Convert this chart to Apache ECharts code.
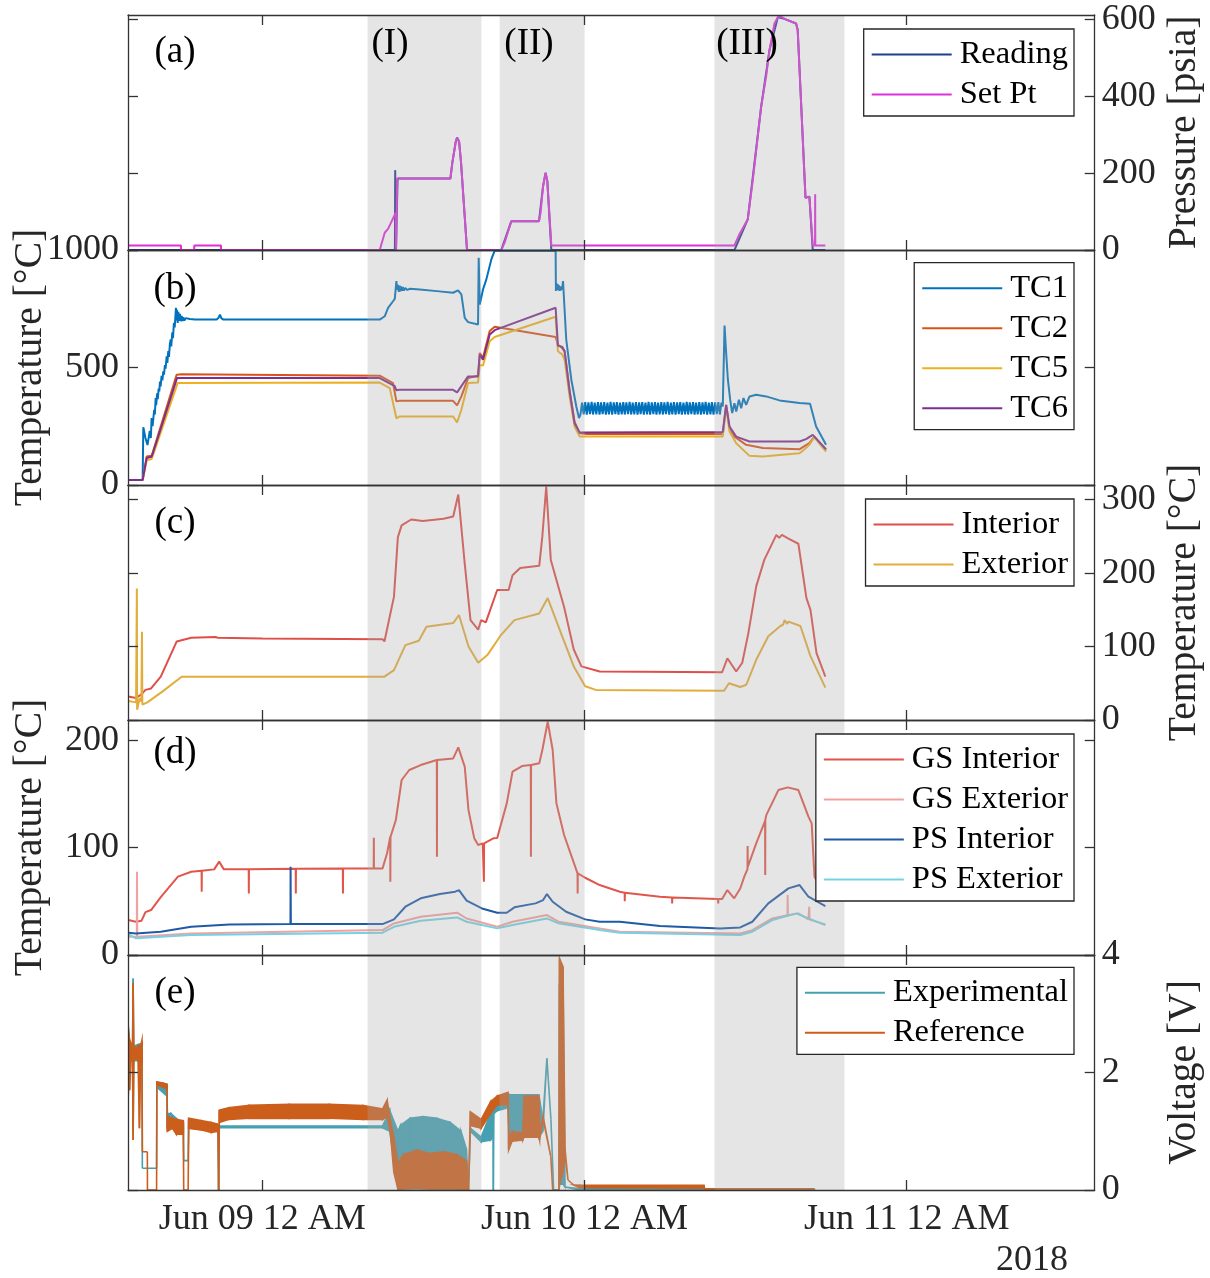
<!DOCTYPE html>
<html><head><meta charset="utf-8">
<script src="https://cdn.jsdelivr.net/npm/echarts@6/dist/echarts.min.js"></script>
<style>html,body{margin:0;padding:0;background:#fff}#c{width:1210px;height:1278px}</style>
</head><body><div id="c"></div>
<script>
// ---------- DATA (x = hours since Jun 08 2018 00:00) ----------
const xTickValues = [24, 48, 72];
const xTickLabels = ['Jun 09 12 AM', 'Jun 10 12 AM', 'Jun 11 12 AM'];
const phaseSpans = [[31.84, 40.32], [41.68, 48.01], [57.68, 67.36]];
const phaseLabels = ['(I)', '(II)', '(III)'];
const panelLetters = ['(a)', '(b)', '(c)', '(d)', '(e)'];
const pressureTicks = [0, 200, 400, 600];
const tempBTicks = [0, 500, 1000];
const tempCTicks = [0, 100, 200, 300];
const tempDTicks = [0, 100, 200];
const voltTicks = [0, 2, 4];

const reading = [[14.0,0],[33.88,0],[33.9,208],[33.96,0],[34.06,0],[34.08,186],[38.01,186],[38.16,228],[38.41,282],[38.51,293],[38.66,282],[38.8,230],[39.25,0],[41.8,0],[42.55,75],[44.61,75],[44.91,165],[45.1,201],[45.23,180],[45.53,0],[59.17,0],[60.16,80],[61.16,374],[61.78,521],[62.4,606],[62.89,602],[63.76,590],[63.88,573],[64.46,136],[64.75,139],[65.0,0],[65.94,0]];
const setPt = [[14.0,12],[17.94,12],[17.95,0],[18.93,0],[18.94,12],[20.92,12],[20.93,0],[32.75,0],[33.12,45],[33.37,55],[33.94,97],[33.97,0],[34.04,0],[34.05,186],[38.01,186],[38.16,228],[38.41,282],[38.51,293],[38.66,282],[38.8,230],[39.25,0],[41.8,0],[42.05,19],[42.55,75],[44.61,75],[44.73,97],[44.91,165],[45.1,201],[45.23,180],[45.53,12],[59.17,12],[59.54,41],[60.16,80],[60.54,183],[61.16,374],[61.53,452],[61.78,521],[62.15,590],[62.4,606],[62.64,608],[62.89,602],[63.3,596],[63.76,590],[63.88,573],[64.46,136],[64.75,139],[65.0,12],[65.17,12],[65.18,145],[65.19,12],[65.94,12]];

const tc1 = [[14.0,21],[15.09,21],[15.14,246],[15.3,200],[15.45,170],[15.56,164],[15.62,230],[15.7,200],[15.76,285],[15.83,250],[15.89,243],[15.95,320],[16.0,300],[16.06,370],[16.1,340],[16.17,390],[16.22,365],[16.28,410],[16.33,398],[16.38,440],[16.43,420],[16.5,465],[16.56,445],[16.63,484],[16.68,470],[16.75,510],[16.8,495],[16.88,548],[16.93,520],[17.0,570],[17.05,545],[17.12,600],[17.18,619],[17.22,590],[17.3,650],[17.35,625],[17.42,690],[17.48,670],[17.57,754],[17.6,700],[17.65,745],[17.7,690],[17.75,737],[17.8,698],[17.87,728],[17.93,697],[18.0,720],[18.06,698],[18.12,714],[18.2,700],[18.3,710],[18.4,702],[18.6,706],[19.0,704],[20.6,704],[20.75,712],[20.85,725],[20.95,710],[21.1,704],[32.75,704],[33.12,718],[33.37,754],[33.74,782],[33.87,792],[33.99,868],[34.05,830],[34.11,852],[34.17,822],[34.23,848],[34.29,824],[34.35,845],[34.41,826],[34.47,842],[34.55,828],[34.65,838],[34.8,830],[35.0,835],[35.73,832],[37.0,825],[38.21,818],[38.58,828],[38.83,811],[39.08,711],[39.33,693],[40.07,683],[40.12,967],[40.2,768],[40.44,832],[40.69,875],[41.06,960],[41.31,997],[45.85,997],[45.87,826],[45.9,860],[45.95,830],[46.0,855],[46.05,828],[46.1,850],[46.15,826],[46.2,845],[46.25,830],[46.35,840],[46.4,868],[46.52,861],[46.64,619],[47.02,448],[47.39,334],[47.59,285],
[47.70,300],[47.82,350],[47.94,301],[48.05,353],[48.17,299],[48.29,352],[48.41,302],[48.53,354],[48.64,300],[48.76,351],[48.88,301],[49.00,353],[49.12,299],[49.23,352],[49.35,302],[49.47,353],[49.59,300],[49.71,351],[49.82,301],[49.94,354],[50.06,300],[50.18,352],[50.30,302],[50.41,353],[50.53,299],[50.65,351],[50.77,301],[50.89,353],[51.00,300],[51.12,352],[51.24,302],[51.36,354],[51.48,300],[51.59,351],[51.71,301],[51.83,353],[51.95,299],[52.07,352],[52.18,302],[52.30,353],[52.42,300],[52.54,351],[52.66,301],[52.77,354],[52.89,300],[53.01,352],[53.13,302],[53.25,353],[53.36,299],[53.48,351],[53.60,301],[53.72,353],[53.84,300],[53.95,352],[54.07,302],[54.19,354],[54.31,300],[54.43,351],[54.54,301],[54.66,353],[54.78,299],[54.90,352],[55.02,302],[55.13,353],[55.25,300],[55.37,351],[55.49,301],[55.61,354],[55.72,300],[55.84,352],[55.96,302],[56.08,353],[56.20,299],[56.31,351],[56.43,301],[56.55,353],[56.67,300],[56.79,352],[56.90,302],[57.02,354],[57.14,300],[57.26,351],[57.38,301],[57.49,353],[57.61,299],[57.73,352],[57.85,302],[57.97,353],[58.08,300],[58.20,351],
[58.3,334],[58.43,679],[58.55,563],[58.68,448],[58.85,363],[59.0,306],[59.17,348],[59.3,313],[59.5,363],[59.67,327],[59.84,370],[60.04,341],[60.29,377],[60.78,384],[61.53,377],[62.52,360],[64.01,349],[64.8,346],[64.88,348],[65.25,249],[65.99,171]];
const tc2 = [[14.0,21],[15.09,21],[15.39,121],[15.75,125],[15.85,140],[17.62,469],[18.0,471],[32.75,465],[33.74,434],[33.99,356],[34.2,358],[38.21,358],[38.51,339],[38.83,377],[39.33,455],[40.07,465],[40.2,562],[40.32,555],[40.44,541],[40.94,655],[41.31,673],[45.85,630],[46.02,597],[46.27,587],[46.52,569],[46.89,405],[47.26,270],[47.64,220],[48.2,217],[58.3,217],[58.55,341],[58.8,242],[59.17,206],[60.04,171],[61.28,157],[64.01,152],[64.26,161],[64.75,178],[65.12,206],[65.99,146]];
const tc5 = [[14.0,21],[15.09,21],[15.4,105],[15.75,110],[15.85,125],[17.7,434],[32.75,436],[33.5,412],[33.99,284],[34.24,292],[38.21,292],[38.51,266],[38.83,320],[39.33,434],[40.07,436],[40.2,512],[40.44,508],[40.94,612],[41.31,630],[45.85,716],[46.02,569],[46.35,555],[46.52,533],[46.89,377],[47.26,249],[47.64,206],[58.3,206],[58.55,334],[58.8,228],[59.3,178],[60.29,124],[61.28,121],[64.01,135],[64.26,146],[64.75,171],[65.12,203],[65.99,142]];
const tc6 = [[14.0,21],[15.09,21],[15.39,115],[15.75,120],[15.85,135],[17.65,455],[32.75,455],[33.87,421],[33.99,403],[34.2,405],[38.21,405],[38.51,394],[38.83,421],[39.33,462],[40.07,462],[40.2,555],[40.44,533],[40.94,640],[41.31,659],[45.85,754],[46.02,593],[46.35,587],[46.52,569],[46.89,398],[47.26,263],[47.64,223],[58.3,226],[58.55,341],[58.8,249],[59.3,206],[60.29,185],[64.01,185],[64.5,195],[65.0,213],[65.99,152]];

const interior = [[14.02,32],[14.59,30],[15.0,35],[15.3,41],[15.72,43],[16.44,59],[17.63,107],[18.71,112],[20.5,113],[20.6,115],[20.7,112],[24,111],[32.96,110],[33.1,107],[33.81,168],[34.1,249],[34.38,265],[35.09,273],[35.95,271],[37.5,274],[38.22,277],[38.6,307],[39.08,213],[39.51,136],[40.08,123],[40.3,136],[40.65,133],[41.5,177],[42.35,177],[42.64,197],[43.21,207],[44.63,210],[44.86,250],[45.15,318],[45.49,218],[46.48,154],[47.2,96],[47.77,73],[49.13,66],[58.25,65],[58.64,84],[59.3,66],[59.75,78],[60.2,118],[60.79,182],[61.39,218],[62.29,252],[62.5,248],[62.7,252],[63.19,247],[63.93,240],[64.53,166],[64.83,150],[65.28,91],[65.94,59]];
const exterior = [[14.02,26],[14.6,24],[14.66,179],[14.68,14],[14.87,30],[15.0,25],[15.04,120],[15.07,21],[15.44,24],[16.58,39],[18.0,59],[24,59],[33.1,59],[33.81,68],[34.66,102],[35.66,108],[36.23,127],[38.22,132],[38.65,143],[39.36,100],[40.08,78],[40.79,89],[41.79,116],[42.78,136],[44.63,145],[45.26,166],[46.34,114],[47.2,73],[48.05,46],[48.84,41],[58.4,40],[58.76,50],[59.6,45],[60.05,48],[60.79,82],[61.69,114],[62.59,128],[62.8,130],[62.9,136],[63.1,131],[63.19,134],[64.08,128],[64.83,87],[65.94,44]];

const gsInterior = [[14.02,32.6],[14.59,31],[15.01,32],[15.3,40],[15.72,41.9],[16.44,54],[17.72,73],[18.71,77.6],[19.48,78.5],[19.49,59],[19.5,78.6],[20.42,79.8],[20.79,87],[21.14,79.8],[22.99,80],[23.0,57.4],[23.01,80],[26.49,80.3],[26.5,57.4],[26.51,80.3],[30.0,80.5],[30.01,57.4],[30.02,80.5],[32.3,80.7],[32.31,109.3],[32.32,80.7],[32.96,80.7],[33.3,95],[33.53,110],[33.54,68.3],[33.55,110],[33.95,125.8],[34.38,163.1],[34.95,172.4],[35.8,177],[37.0,181.7],[37.01,91.6],[37.02,181.7],[38.22,183.2],[38.6,193.5],[39.08,175.5],[39.36,135],[39.79,108.7],[40.08,102.5],[40.42,104],[40.5,104],[40.51,68.3],[40.52,104],[41.21,108.7],[41.5,109],[42.21,141.3],[42.64,170.8],[43.35,176.1],[44.0,177],[44.01,91.6],[44.02,177],[44.63,178.6],[44.86,191],[45.26,217.4],[45.63,191],[45.91,141.3],[46.48,111.8],[47.48,76],[47.49,57.4],[47.5,76],[48.05,72],[49.13,65.2],[50.63,59],[50.99,58],[51.0,50],[51.01,58],[53.62,54.3],[54.52,53.5],[54.53,48],[54.54,53.5],[57.95,52.3],[57.96,48],[57.97,52.3],[58.25,52.1],[58.64,60.5],[59.15,52.8],[59.6,62],[59.9,73],[60.14,80],[60.15,101.5],[60.16,82],[60.79,104],[61.45,125],[61.46,74.5],[61.47,126],[61.54,130.4],[62.44,153.7],[63.13,156.2],[63.19,155.5],[63.93,153.7],[64.68,128.9],[64.92,122.7],[65.13,73],[65.94,55]];
const gsExterior = [[14.02,17],[14.66,17],[14.67,77.6],[14.69,17],[18.71,20.1],[32.96,23.2],[33.81,29.4],[35.8,35.7],[38.51,39.4],[39.22,34],[41.5,26.3],[42.64,31],[45.2,37.2],[46.06,31],[49.13,24.8],[50.63,21.7],[59.6,20.1],[60.5,23.2],[61.99,34.1],[63.12,37],[63.13,55.9],[63.15,37],[63.93,38.8],[64.68,33.2],[64.74,45],[64.76,33],[65.94,28.5]];
const psInterior = [[14.02,20.8],[14.59,20],[14.67,19.5],[16.44,21.7],[18.71,26.3],[21.56,28.5],[26.1,28.8],[26.11,82.3],[26.13,28.8],[32.96,28.8],[33.81,33.2],[34.66,45],[35.8,52.8],[37.23,56.8],[38.37,59],[38.65,60.5],[39.22,50.6],[40.36,43.4],[41.5,39.4],[42.21,39.4],[42.78,44.4],[44.35,48.1],[44.92,51.2],[45.2,56.8],[45.63,49.6],[46.63,40.3],[48.05,33.2],[49.13,31],[50.63,31],[53.62,27],[58.1,24.8],[59.6,25.7],[60.5,31],[61.69,48.1],[63.19,62.1],[64.02,65.2],[64.68,54.3],[65.94,45.6]];
const psExterior = [[14.02,19.5],[14.59,15.5],[18.71,18.6],[32.96,20.8],[33.81,26.3],[35.8,32],[38.51,35],[39.22,31],[41.5,24.8],[42.64,27.9],[45.2,34.1],[46.06,29.5],[49.13,23.2],[50.63,20.8],[59.6,18.6],[60.5,21.7],[61.99,32.6],[63.78,38.8],[64.68,34.1],[65.94,27.9]];

// voltage traces: [hour, low edge, high edge] of the noisy trace
const expBand = [[14.02,1.60,2.80],[14.12,2.20,2.50],[14.34,2.20,2.45],[14.38,1.00,3.60],[14.43,2.20,2.45],[15.04,2.20,2.50],[15.07,0.37,0.37],[16.13,0.37,0.37],[16.15,1.75,1.84],[16.9,1.60,1.80],[16.93,1.05,1.30],[17.2,1.10,1.30],[17.7,1.00,1.20],[18.12,1.00,1.15],[18.15,0.50,0.50],[18.48,0.50,0.50],[18.52,1.05,1.20],[20.7,1.00,1.10],[20.75,0,0],[20.8,1.06,1.09],[32.96,1.06,1.09],[33.5,1.00,1.35],[34.1,0.02,1.00],[34.3,0.02,1.10],[35.0,0.02,1.22],[36.0,0.02,1.25],[37.0,0.02,1.22],[38.0,0.02,1.15],[38.8,0.02,1.00],[39.2,0,0.70],[39.36,0,0],[39.5,1.00,1.05],[40.3,0.82,0.90],[41.0,0.85,1.30],[41.19,0.90,1.40],[41.21,0,0],[41.25,1.30,1.45],[41.5,1.35,1.50],[42.3,1.40,1.60],[42.4,0.90,1.62],[44.6,0.90,1.62],[44.9,1.00,1.20],[45.2,2.24,2.24],[45.5,1.20,1.20],[45.7,0,0],[46.1,0,0],[46.14,0.10,3.50],[46.4,0.10,3.50],[46.55,0.05,0.05],[47.64,0,0.02],[65.13,0,0.01]];
const refBand = [[14.02,2.30,2.75],[14.12,1.70,2.55],[14.22,2.20,2.50],[14.34,2.20,2.45],[14.38,0.85,3.52],[14.43,2.20,2.45],[14.6,2.25,2.40],[14.75,2.20,2.45],[14.85,1.05,2.45],[14.95,2.25,2.45],[15.04,2.20,2.55],[15.07,0.65,0.65],[15.44,0.65,0.65],[15.45,0,0],[16.13,0,0],[16.15,1.80,1.84],[16.6,1.75,1.82],[16.9,1.72,1.80],[16.93,1.00,1.25],[17.3,1.05,1.22],[17.6,0.95,1.20],[18.12,0.95,1.18],[18.15,0,0],[18.48,0,0],[18.52,1.05,1.22],[19.5,1.02,1.18],[20.2,0.98,1.15],[20.7,1.00,1.12],[20.75,0,0],[20.8,1.15,1.36],[21.5,1.20,1.40],[23.0,1.22,1.44],[26.0,1.22,1.46],[29.0,1.22,1.46],[31.5,1.20,1.44],[32.96,1.20,1.38],[33.3,1.25,1.53],[33.53,1.00,1.20],[33.8,0.30,0.90],[34.1,0.02,0.45],[34.5,0.02,0.60],[35.5,0.03,0.68],[36.5,0.02,0.62],[37.5,0.02,0.65],[38.5,0.02,0.60],[39.2,0,0.50],[39.36,0,0],[39.5,1.10,1.33],[40.3,1.05,1.20],[41.0,1.30,1.50],[41.5,1.45,1.60],[42.3,1.45,1.66],[42.35,0.68,0.90],[42.6,0.83,0.99],[43.4,0.85,0.98],[43.5,0.90,1.60],[44.6,0.90,1.60],[44.65,0.85,1.00],[44.92,1.20,1.25],[45.49,0.57,0.57],[45.63,0,0],[46.1,0,0],[46.14,0.10,3.94],[46.4,0.30,3.80],[46.55,0.60,0.70],[46.77,0.17,0.17],[47.2,0.085,0.085],[47.64,0.04,0.08],[56.9,0.03,0.08],[56.95,0.02,0.02],[65.13,0.02,0.02]];

// ---------- CHART ----------
const FAMILY = 'Liberation Serif';
const FONT = '"Liberation Serif", "Times New Roman", serif';
const AX = '#333333';
const TICK_FS = 36, NAME_FS = 39.5, LEG_FS = 32.5, NOTE_FS = 37;
const gridTops = [15, 250, 485, 720, 955];
const gridH = 235;
const panels = [
  {max: 612, ticks: pressureTicks, side: 'right', name: 'Pressure [psia]'},
  {max: 1000, ticks: tempBTicks, side: 'left', name: 'Temperature [°C]'},
  {max: 320, ticks: tempCTicks, side: 'right', name: 'Temperature [°C]'},
  {max: 219, ticks: tempDTicks, side: 'left', name: 'Temperature [°C]'},
  {max: 4, ticks: voltTicks, side: 'right', name: 'Voltage [V]'}
];
const grids = gridTops.map(t => ({left: 128, right: 115.3, top: t, height: gridH,
  containLabel: false, outerBoundsMode: 'none'}));
const xAxes = [], yAxes = [];
panels.forEach((p, i) => {
  ['bottom', 'top'].forEach(pos => {
    xAxes.push({
      type: 'value', gridIndex: i, min: 14, max: 86, position: pos, z: 12,
      axisLine: {show: true, onZero: false, lineStyle: {color: AX, width: 1.3}},
      axisTick: {show: true, inside: true, length: 10, customValues: xTickValues, lineStyle: {color: AX, width: 1.3}},
      axisLabel: {show: i === 4 && pos === 'bottom', customValues: xTickValues, margin: 12,
        formatter: v => xTickLabels[xTickValues.indexOf(v)] || '', fontSize: TICK_FS, fontFamily: FAMILY, color: '#262626'},
      splitLine: {show: false}
    });
  });
  ['left', 'right'].forEach(pos => {
    const labeled = pos === p.side;
    yAxes.push({
      type: 'value', gridIndex: i, min: 0, max: p.max, position: pos, z: 12,
      name: labeled ? p.name : '', nameLocation: 'middle', nameRotate: 90, nameMoveOverlap: false,
      nameGap: pos === 'left' ? 77 : 70,
      nameTextStyle: {fontSize: NAME_FS, fontFamily: FAMILY, color: '#262626'},
      axisLine: {show: true, onZero: false, lineStyle: {color: AX, width: 1.3}},
      axisTick: {show: true, inside: true, length: 10, customValues: p.ticks, lineStyle: {color: AX, width: 1.3}},
      axisLabel: {show: labeled, customValues: p.ticks, margin: pos === 'left' ? 9 : 7,
        formatter: v => String(v), fontSize: TICK_FS, fontFamily: FAMILY, color: '#262626'},
      splitLine: {show: false}
    });
  });
});

function line(name, data, color, gi) {
  return {
    type: 'line', name: name, data: data, xAxisIndex: 2 * gi, yAxisIndex: 2 * gi,
    symbol: 'none', showSymbol: false, animation: false, silent: true, z: 2,
    lineStyle: {color: color, width: 2}, itemStyle: {color: color}
  };
}
// noisy trace drawn as the envelope between its low and high edges
function band(arr, color, gi) {
  const segs = [];
  for (let i = 0; i < arr.length - 1; i++) {
    segs.push([arr[i][0], arr[i][1], arr[i][2], arr[i + 1][0], arr[i + 1][1], arr[i + 1][2]]);
  }
  return {
    type: 'custom', xAxisIndex: 2 * gi, yAxisIndex: 2 * gi, silent: true, animation: false, z: 2, clip: true,
    data: segs, encode: {x: [0, 3], y: [1, 2, 4, 5]},
    renderItem: (params, api) => {
      const a = api.coord([api.value(0), api.value(1)]);
      const b = api.coord([api.value(3), api.value(4)]);
      const c = api.coord([api.value(3), api.value(5)]);
      const d = api.coord([api.value(0), api.value(2)]);
      return {type: 'polygon', shape: {points: [a, b, c, d]}, style: {fill: color, stroke: color, lineWidth: 1.6}};
    }
  };
}
const shade = gi => ({
  type: 'line', data: [], xAxisIndex: 2 * gi, yAxisIndex: 2 * gi, silent: true, animation: false, z: 10,
  markArea: {silent: true, z: 10, itemStyle: {color: 'rgba(168,168,168,0.30)'},
    data: phaseSpans.map(s => [{xAxis: s[0]}, {xAxis: s[1]}])}
});

const EXP = '#45a0b2', REF = '#cc5e1c';
const series = [
  line('Reading', reading, '#1f3f8c', 0),
  line('Set Pt', setPt, '#de2fdc', 0),
  line('TC1', tc1, '#0072BD', 1),
  line('TC2', tc2, '#D95319', 1),
  line('TC5', tc5, '#EDB120', 1),
  line('TC6', tc6, '#7E2F8E', 1),
  line('Interior', interior, '#de4f4a', 2),
  line('Exterior', exterior, '#e3ad3a', 2),
  line('GS Interior', gsInterior, '#e0564a', 3),
  line('GS Exterior', gsExterior, '#f2a1a1', 3),
  line('PS Interior', psInterior, '#1f5aa6', 3),
  line('PS Exterior', psExterior, '#74d2e4', 3),
  band(expBand, EXP, 4),
  band(refBand, REF, 4),
  line('Experimental', [], EXP, 4),
  line('Reference', [], REF, 4)
];
for (let g = 0; g < 5; g++) series.push(shade(g));

const legendBase = {
  orient: 'vertical', right: 136, itemWidth: 80, itemHeight: 2, itemGap: 7, icon: 'rect',
  padding: [9, 6, 5, 8], borderColor: '#262626', borderWidth: 1.3, backgroundColor: '#ffffff',
  selectedMode: false, z: 20,
  textStyle: {fontSize: LEG_FS, fontFamily: FAMILY, color: '#000', lineHeight: 32, padding: [0, 0, 0, 3]}
};
const legends = [
  {top: 29, data: ['Reading', 'Set Pt']},
  {top: 262.7, data: ['TC1', 'TC2', 'TC5', 'TC6']},
  {top: 499, data: ['Interior', 'Exterior']},
  {top: 734, data: ['GS Interior', 'GS Exterior', 'PS Interior', 'PS Exterior']},
  {top: 967.3, data: ['Experimental', 'Reference']}
].map(l => Object.assign({}, legendBase, l));

const txt = (x, y, text, fs, fill) => ({type: 'text', x: x, y: y, z: 30, silent: true,
  style: {text: text, font: fs + 'px ' + FONT, fill: fill || '#000', textAlign: 'center', textVerticalAlign: 'middle'}});
const letterPos = [[175, 52], [175, 289], [175, 523], [175, 753], [175, 993]];
const phasePos = [[390, 44], [529, 44], [747, 44]];
const graphics = [];
panelLetters.forEach((t, i) => graphics.push(txt(letterPos[i][0], letterPos[i][1], t, NOTE_FS)));
phaseLabels.forEach((t, i) => graphics.push(txt(phasePos[i][0], phasePos[i][1], t, NOTE_FS)));
graphics.push(txt(1032, 1261, '2018', TICK_FS, '#262626'));

const chart = echarts.init(document.getElementById('c'), null, {width: 1210, height: 1278});
chart.setOption({
  animation: false, backgroundColor: '#ffffff',
  textStyle: {fontFamily: FAMILY},
  grid: grids, xAxis: xAxes, yAxis: yAxes, series: series, legend: legends, graphic: graphics
});
</script></body></html>
